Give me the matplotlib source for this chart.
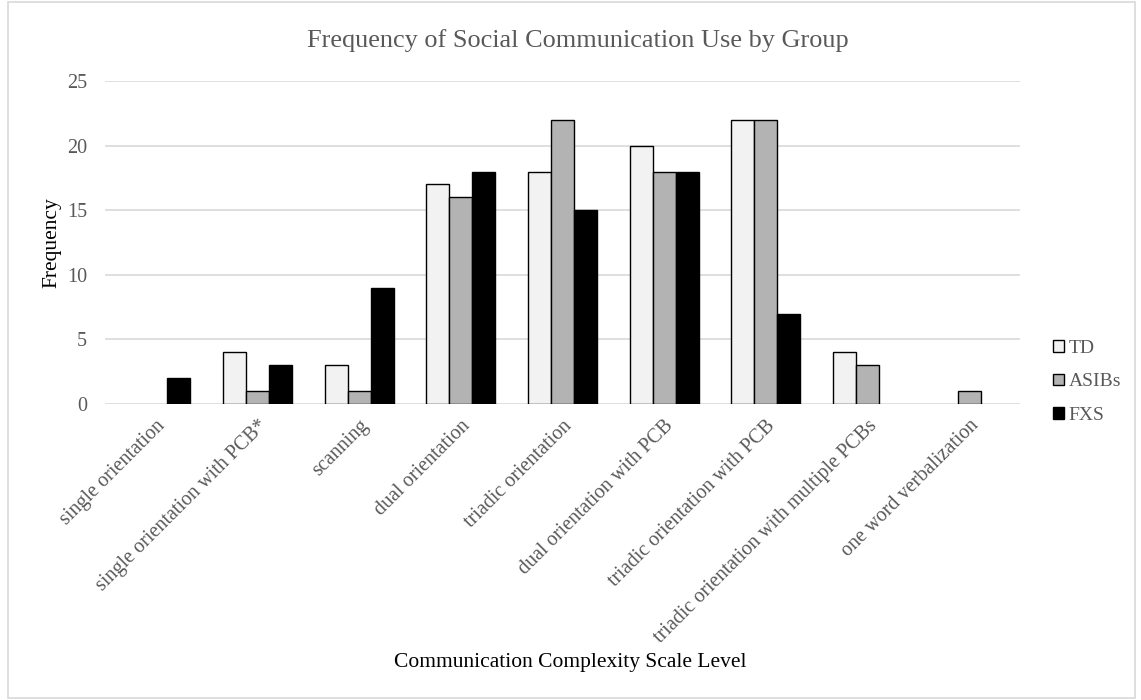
import matplotlib
matplotlib.use("Agg")
import matplotlib.pyplot as plt
import numpy as np
from matplotlib.patches import Rectangle

categories = ["single orientation", "single orientation with PCB*", "scanning",
              "dual orientation", "triadic orientation", "dual orientation with PCB",
              "triadic orientation with PCB", "triadic orientation with multiple PCBs",
              "one word verbalization"]
series_names = ["TD", "ASIBs", "FXS"]
td = [0, 4, 3, 17, 18, 20, 22, 4, 0]
asibs = [0, 1, 1, 16, 22, 18, 22, 3, 1]
fxs = [2, 3, 9, 18, 15, 18, 7, 0, 0]
yticks = [0, 5, 10, 15, 20, 25]

colors = ["#F2F2F2", "#B3B3B3", "#000000"]
plt.rcParams['font.family'] = ['Liberation Serif', 'DejaVu Serif']

fig = plt.figure(figsize=(11.41, 7.0), dpi=100)
fig.patches.append(Rectangle((0.007, 0.003), 0.988, 0.994, transform=fig.transFigure,
                             fill=False, edgecolor="#D9D9D9", linewidth=1.2))
ax = fig.add_axes([0.092, 0.423, 0.802, 0.461])

x = np.arange(len(categories))
w = 0.226
for i, (vals, c) in enumerate(zip([td, asibs, fxs], colors)):
    xs = x + (i - 1) * w
    lws = [1.0 if v > 0 else 0.0 for v in vals]
    ax.bar(xs, vals, width=w, color=c, edgecolor="#000000",
           linewidth=lws, label=series_names[i], zorder=3)

ax.set_xlim(-0.5, len(categories) - 0.5)
ax.set_ylim(0, 25)
ax.set_yticks(yticks)
ax.yaxis.grid(True, color="#D9D9D9", linewidth=1.2, zorder=0)
for s in ax.spines.values():
    s.set_visible(False)
ax.tick_params(axis='both', length=0, colors="#595959", labelsize=14.5)
ax.tick_params(axis='y', pad=13)
ax.set_xticks(x)
ax.set_xticklabels(categories, rotation=45, ha='right', rotation_mode='anchor')
ax.tick_params(axis='x', pad=9)

ax.set_ylabel("Frequency", fontsize=15.5, color="black", labelpad=4)
fig.text(0.5, 0.053, "Communication Complexity Scale Level", ha='center',
         va='center', fontsize=15.5, color="black")
fig.text(0.506, 0.942, "Frequency of Social Communication Use by Group", ha='center',
         va='center', fontsize=18.9, color="#595959")

leg = ax.legend(loc='center left', bbox_to_anchor=(1.017, 0.068), frameon=False,
                fontsize=14, handlelength=0.55, handleheight=0.55, handletextpad=0.25,
                labelspacing=0.85, labelcolor="#595959")
for h in leg.legend_handles:
    h.set_linewidth(1.0)

fig.savefig("out.png", dpi=100)
